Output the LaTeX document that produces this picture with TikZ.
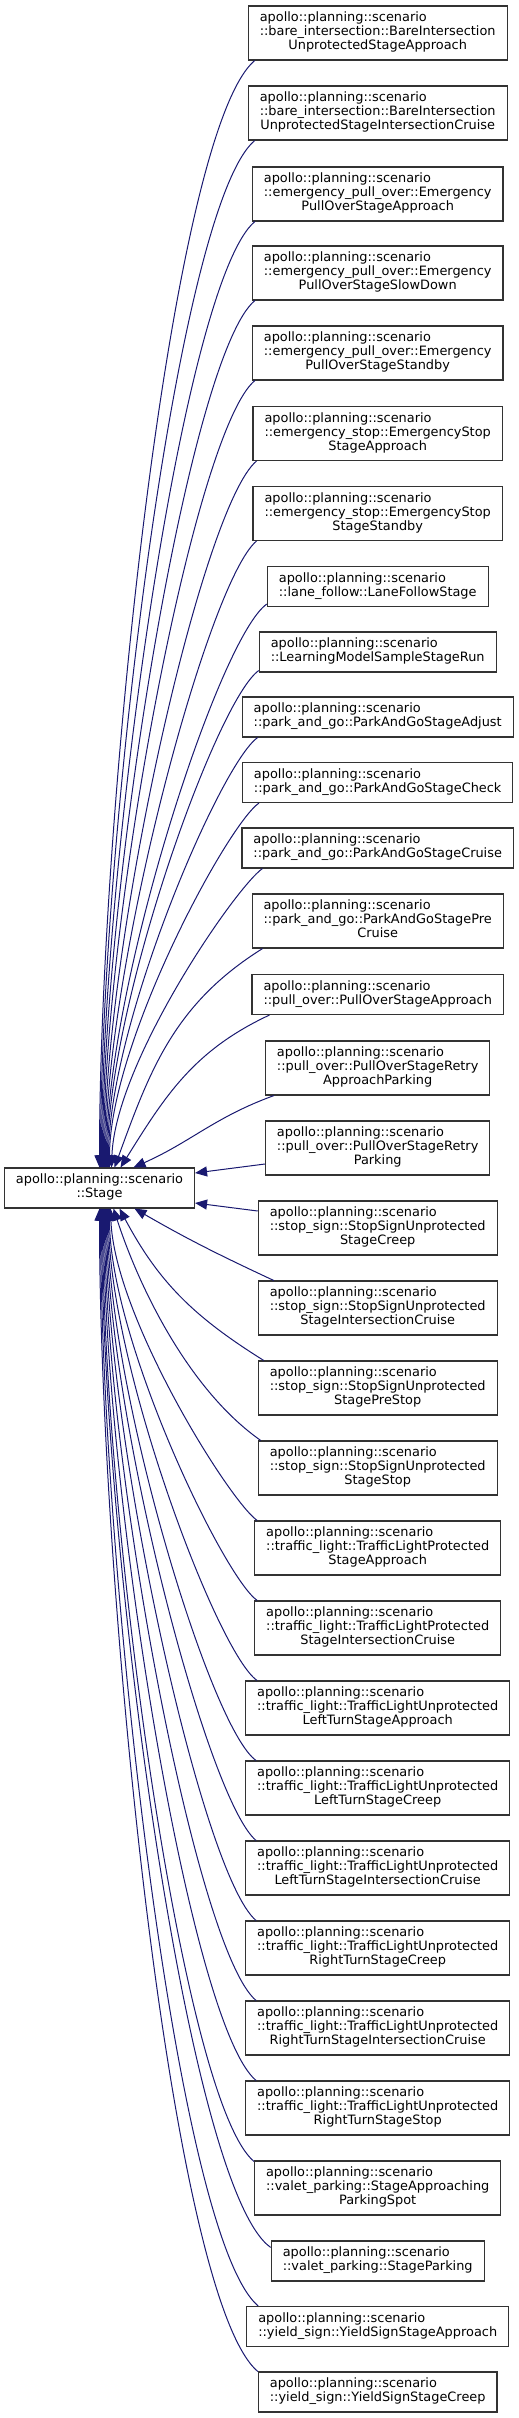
\documentclass[tikz,border=0pt]{standalone}
\usepackage{fontspec}
\setmainfont{DejaVu Sans}
\usetikzlibrary{arrows.meta}
\definecolor{elkek}{HTML}{191970}
\newcommand{\apns}{apollo::planning::scenario}
\newcommand{\haromsor}[2]{\begin{tabular}{@{}l@{}}\apns\\#1\\\multicolumn{1}{@{}c@{}}{#2}\end{tabular}}
\newcommand{\ketsor}[1]{\begin{tabular}{@{}l@{}}\apns\\#1\end{tabular}}

\begin{document}
\begin{tikzpicture}[x=1pt,y=1pt,>={Triangle[length=12pt,width=10pt]},
osztaly/.style={rectangle,draw=black!80,line width=1.1pt,fill=white,inner xsep=11.5pt,inner ysep=6pt,
  font=\fontsize{12.9}{14}\selectfont}]

\useasboundingbox (0,0) rectangle (519,-2418);
\pgfmathsetmacro{\oszlop}{377.7}

\node[osztaly](stage) at (99.5,-1188){\begin{tabular}{@{}c@{}}\apns\\::Stage\end{tabular}};

\node[osztaly](bare-approach) at (\oszlop,-33){\haromsor{::bare\_intersection::BareIntersection}{UnprotectedStageApproach}};
\node[osztaly](bare-cruise) at (\oszlop,-113){\haromsor{::bare\_intersection::BareIntersection}{UnprotectedStageIntersectionCruise}};
\node[osztaly](epo-approach) at (\oszlop,-194){\haromsor{::emergency\_pull\_over::Emergency}{PullOverStageApproach}};
\node[osztaly](epo-slowdown) at (\oszlop,-273){\haromsor{::emergency\_pull\_over::Emergency}{PullOverStageSlowDown}};
\node[osztaly](epo-standby) at (\oszlop,-353){\haromsor{::emergency\_pull\_over::Emergency}{PullOverStageStandby}};
\node[osztaly](es-approach) at (\oszlop,-433.5){\haromsor{::emergency\_stop::EmergencyStop}{StageApproach}};
\node[osztaly](es-standby) at (\oszlop,-513.5){\haromsor{::emergency\_stop::EmergencyStop}{StageStandby}};
\node[osztaly](lane-follow) at (\oszlop,-586.5){\ketsor{::lane\_follow::LaneFollowStage}};
\node[osztaly](learning) at (\oszlop,-652){\ketsor{::LearningModelSampleStageRun}};
\node[osztaly](pag-adjust) at (\oszlop,-717){\ketsor{::park\_and\_go::ParkAndGoStageAdjust}};
\node[osztaly](pag-check) at (\oszlop,-782.5){\ketsor{::park\_and\_go::ParkAndGoStageCheck}};
\node[osztaly](pag-cruise) at (\oszlop,-848){\ketsor{::park\_and\_go::ParkAndGoStageCruise}};
\node[osztaly](pag-precruise) at (\oszlop,-921){\haromsor{::park\_and\_go::ParkAndGoStagePre}{Cruise}};
\node[osztaly](po-approach) at (\oszlop,-994.5){\ketsor{::pull\_over::PullOverStageApproach}};
\node[osztaly](po-retry-approach) at (\oszlop,-1068){\haromsor{::pull\_over::PullOverStageRetry}{ApproachParking}};
\node[osztaly](po-retry-parking) at (\oszlop,-1148){\haromsor{::pull\_over::PullOverStageRetry}{Parking}};

\node[osztaly](ss-creep) at (\oszlop,-1228){\haromsor{::stop\_sign::StopSignUnprotected}{StageCreep}};
\node[osztaly](ss-cruise) at (\oszlop,-1308){\haromsor{::stop\_sign::StopSignUnprotected}{StageIntersectionCruise}};
\node[osztaly](ss-prestop) at (\oszlop,-1388){\haromsor{::stop\_sign::StopSignUnprotected}{StagePreStop}};
\node[osztaly](ss-stop) at (\oszlop,-1468){\haromsor{::stop\_sign::StopSignUnprotected}{StageStop}};
\node[osztaly](tlp-approach) at (\oszlop,-1548){\haromsor{::traffic\_light::TrafficLightProtected}{StageApproach}};
\node[osztaly](tlp-cruise) at (\oszlop,-1628){\haromsor{::traffic\_light::TrafficLightProtected}{StageIntersectionCruise}};
\node[osztaly](tlu-left-approach) at (\oszlop,-1708){\haromsor{::traffic\_light::TrafficLightUnprotected}{LeftTurnStageApproach}};
\node[osztaly](tlu-left-creep) at (\oszlop,-1788){\haromsor{::traffic\_light::TrafficLightUnprotected}{LeftTurnStageCreep}};
\node[osztaly](tlu-left-cruise) at (\oszlop,-1868){\haromsor{::traffic\_light::TrafficLightUnprotected}{LeftTurnStageIntersectionCruise}};
\node[osztaly](tlu-right-creep) at (\oszlop,-1948){\haromsor{::traffic\_light::TrafficLightUnprotected}{RightTurnStageCreep}};
\node[osztaly](tlu-right-cruise) at (\oszlop,-2028){\haromsor{::traffic\_light::TrafficLightUnprotected}{RightTurnStageIntersectionCruise}};
\node[osztaly](tlu-right-stop) at (\oszlop,-2108){\haromsor{::traffic\_light::TrafficLightUnprotected}{RightTurnStageStop}};
\node[osztaly](vp-approach) at (\oszlop,-2188){\haromsor{::valet\_parking::StageApproaching}{ParkingSpot}};
\node[osztaly](vp-parking) at (\oszlop,-2261){\ketsor{::valet\_parking::StageParking}};
\node[osztaly](ys-approach) at (\oszlop,-2326.5){\ketsor{::yield\_sign::YieldSignStageApproach}};
\node[osztaly](ys-creep) at (\oszlop,-2392){\ketsor{::yield\_sign::YieldSignStageCreep}};

\begin{scope}[->, elkek, line width=1pt]
% from above
\draw ([xshift=7pt]bare-approach.south west) .. controls +(-140:110) and +(90:350) .. (stage.north);
\draw ([xshift=7pt]bare-cruise.south west) .. controls +(-140:102) and +(90:325) .. ([xshift=1pt]stage.north);
\draw ([xshift=3pt]epo-approach.south west) .. controls +(-140:94) and +(90:300) .. ([xshift=2pt]stage.north);
\draw ([xshift=3pt]epo-slowdown.south west) .. controls +(-140:86) and +(90:276) .. ([xshift=3pt]stage.north);
\draw ([xshift=3pt]epo-standby.south west) .. controls +(-140:79) and +(90:251) .. ([xshift=4pt]stage.north);
\draw ([xshift=4pt]es-approach.south west) .. controls +(-140:71) and +(90:227) .. ([xshift=5pt]stage.north);
\draw ([xshift=4pt]es-standby.south west) .. controls +(-140:63) and +(90:202) .. ([xshift=6pt]stage.north);
\draw ([yshift=3pt]lane-follow.south west) .. controls +(-145:58) and +(90:184) .. ([xshift=7pt]stage.north);
\draw ([yshift=2pt]learning.south west) .. controls +(-145:51) and +(90:163) .. ([xshift=8pt]stage.north);
\draw ([xshift=16pt]pag-adjust.south west) .. controls +(-145:45) and +(90:143) .. ([xshift=9pt]stage.north);
\draw ([xshift=17pt]pag-check.south west) .. controls +(-145:39) and +(90:124) .. ([xshift=10pt]stage.north);
\draw ([xshift=21pt]pag-cruise.south west) .. controls +(-145:33) and +(88:105) .. ([xshift=12pt]stage.north);
\draw ([xshift=11pt]pag-precruise.south west) .. controls +(-148:104) and +(70:104) .. ([xshift=15pt]stage.north);
\draw ([xshift=18pt]po-approach.south west) .. controls +(-155:84) and +(58:84) .. ([xshift=21pt]stage.north);
\draw ([xshift=9pt]po-retry-approach.south west) .. controls +(-160:63) and +(24:63) .. ([xshift=34pt]stage.north);
% from the side
\draw ([yshift=-16pt]po-retry-parking.west) -- ([yshift=15pt]stage.east);
\draw ([yshift=17pt]ss-creep.west) -- ([yshift=-15pt]stage.east);
% from below
\draw ([xshift=16pt]ss-cruise.north west) .. controls +(155:61) and +(-30:61) .. ([xshift=35pt]stage.south);
\draw ([xshift=6pt]ss-prestop.north west) .. controls +(148:83) and +(-62:83) .. ([xshift=20pt]stage.south);
\draw ([xshift=3pt]ss-stop.north west) .. controls +(145:86) and +(-72:86) .. ([xshift=14pt]stage.south);
\draw ([xshift=3pt]tlp-approach.north west) .. controls +(145:34) and +(-88:108) .. ([xshift=11pt]stage.south);
\draw ([xshift=3pt]tlp-cruise.north west) .. controls +(145:41) and +(-90:131) .. ([xshift=10pt]stage.south);
\draw ([xshift=12pt]tlu-left-approach.north west) .. controls +(145:49) and +(-90:155) .. ([xshift=9pt]stage.south);
\draw ([xshift=11pt]tlu-left-creep.north west) .. controls +(145:56) and +(-90:179) .. ([xshift=8pt]stage.south);
\draw ([xshift=11pt]tlu-left-cruise.north west) .. controls +(140:64) and +(-90:204) .. ([xshift=7pt]stage.south);
\draw ([xshift=11pt]tlu-right-creep.north west) .. controls +(140:71) and +(-90:228) .. ([xshift=6pt]stage.south);
\draw ([xshift=11pt]tlu-right-cruise.north west) .. controls +(140:79) and +(-90:253) .. ([xshift=5pt]stage.south);
\draw ([xshift=11pt]tlu-right-stop.north west) .. controls +(140:87) and +(-90:277) .. ([xshift=4pt]stage.south);
\draw ([yshift=-1pt]vp-approach.north west) .. controls +(140:95) and +(-90:302) .. ([xshift=3pt]stage.south);
\draw ([yshift=-7pt]vp-parking.north west) .. controls +(145:103) and +(-90:330) .. ([xshift=2pt]stage.south);
\draw ([xshift=12pt]ys-approach.north west) .. controls +(140:109) and +(-90:347) .. ([xshift=1pt]stage.south);
\draw (ys-creep.north west) .. controls +(140:115) and +(-90:368) .. (stage.south);
\end{scope}

\end{tikzpicture}
\end{document}
